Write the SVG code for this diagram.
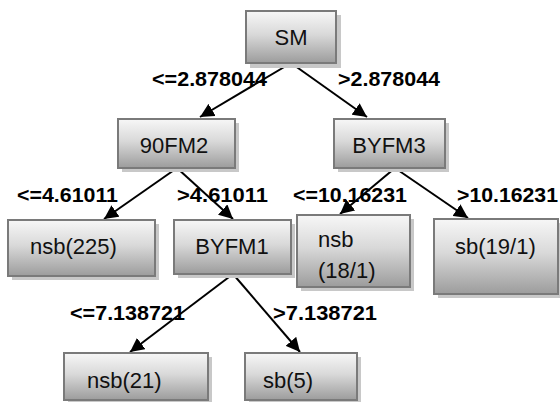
<svg xmlns="http://www.w3.org/2000/svg" width="560" height="402" viewBox="0 0 560 402">
<defs>
<linearGradient id="g" x1="0" y1="0" x2="0" y2="1">
<stop offset="0" stop-color="#f7f7f7"/>
<stop offset="0.45" stop-color="#d9d9d9"/>
<stop offset="1" stop-color="#9c9c9c"/>
</linearGradient>
<marker id="ah" viewBox="0 0 14 14" refX="14" refY="7" markerWidth="14" markerHeight="14" markerUnits="userSpaceOnUse" orient="auto">
<path d="M0,0 L14,7 L0,14 z" fill="#000"/>
</marker>
</defs>
<style>
.sh{fill:#c8c8c8}
.bx{fill:url(#g);stroke:#7a7a7a;stroke-width:2}
.t{font-family:"Liberation Sans",Arial,sans-serif;font-size:22px;fill:#111}
.l{font-family:"Liberation Sans",Arial,sans-serif;font-size:21px;font-weight:bold;fill:#000}
.c{stroke:#000;stroke-width:2;fill:none;marker-end:url(#ah)}
</style>
<g id="connectors">
<line class="c" x1="291" y1="63" x2="200" y2="117"/>
<line class="c" x1="291" y1="63" x2="367" y2="117"/>
<line class="c" x1="177" y1="168" x2="104" y2="219"/>
<line class="c" x1="177" y1="168" x2="233" y2="219"/>
<line class="c" x1="395" y1="168" x2="340" y2="214"/>
<line class="c" x1="395" y1="168" x2="468" y2="218"/>
<line class="c" x1="233" y1="274" x2="130" y2="352"/>
<line class="c" x1="233" y1="274" x2="300" y2="352"/>
</g>
<g id="labels">
<text class="l" x="152" y="86" textLength="115" lengthAdjust="spacingAndGlyphs">&lt;=2.878044</text>
<text class="l" x="338" y="86" textLength="102" lengthAdjust="spacingAndGlyphs">&gt;2.878044</text>
<text class="l" x="17" y="202" textLength="101" lengthAdjust="spacingAndGlyphs">&lt;=4.61011</text>
<text class="l" x="177" y="202" textLength="91" lengthAdjust="spacingAndGlyphs">&gt;4.61011</text>
<text class="l" x="293" y="202" textLength="114" lengthAdjust="spacingAndGlyphs">&lt;=10.16231</text>
<text class="l" x="457" y="202" textLength="101" lengthAdjust="spacingAndGlyphs">&gt;10.16231</text>
<text class="l" x="70" y="320" textLength="115" lengthAdjust="spacingAndGlyphs">&lt;=7.138721</text>
<text class="l" x="273" y="320" textLength="104" lengthAdjust="spacingAndGlyphs">&gt;7.138721</text>
</g>
<g id="SM">
<rect class="sh" x="250" y="15" width="91" height="53"/>
<rect class="bx" x="246" y="11" width="90" height="52"/>
<text class="t" x="291" y="45" text-anchor="middle">SM</text>
</g>
<g id="n90FM2">
<rect class="sh" x="122" y="123" width="117" height="49"/>
<rect class="bx" x="118" y="119" width="117" height="49"/>
<text class="t" x="174" y="153" text-anchor="middle">90FM2</text>
</g>
<g id="BYFM3">
<rect class="sh" x="338" y="123" width="111" height="49"/>
<rect class="bx" x="334" y="119" width="111" height="49"/>
<text class="t" x="389" y="153" text-anchor="middle">BYFM3</text>
</g>
<g id="nsb225">
<rect class="sh" x="12" y="224" width="147" height="56"/>
<rect class="bx" x="8" y="220" width="147" height="56"/>
<text class="t" x="30" y="254">nsb(225)</text>
</g>
<g id="BYFM1">
<rect class="sh" x="178" y="224" width="117" height="54"/>
<rect class="bx" x="174" y="220" width="117" height="54"/>
<text class="t" x="232" y="254" text-anchor="middle">BYFM1</text>
</g>
<g id="nsb18">
<rect class="sh" x="301" y="219" width="113" height="72"/>
<rect class="bx" x="297" y="215" width="113" height="72"/>
<text class="t" x="318" y="247" font-size="20">nsb</text>
<text class="t" x="318" y="278" font-size="20">(18/1)</text>
</g>
<g id="sb19">
<rect class="sh" x="438" y="223" width="122" height="75"/>
<rect class="bx" x="434" y="219" width="124" height="75"/>
<text class="t" x="455" y="254">sb(19/1)</text>
</g>
<g id="nsb21">
<rect class="sh" x="68" y="357" width="144" height="47"/>
<rect class="bx" x="64" y="353" width="144" height="47"/>
<text class="t" x="87" y="388">nsb(21)</text>
</g>
<g id="sb5">
<rect class="sh" x="249" y="357" width="112" height="47"/>
<rect class="bx" x="245" y="353" width="112" height="47"/>
<text class="t" x="263" y="388">sb(5)</text>
</g>
</svg>
